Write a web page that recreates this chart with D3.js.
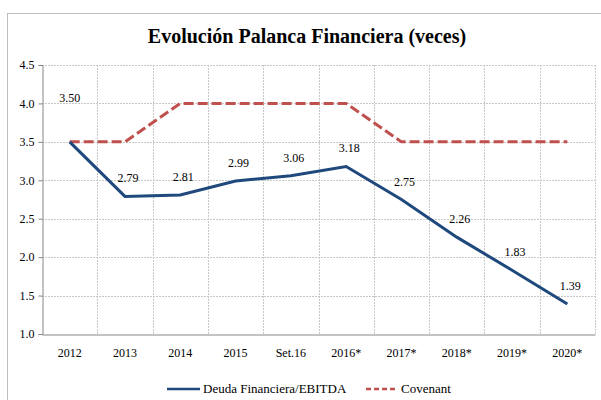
<!DOCTYPE html>
<html>
<head>
<meta charset="utf-8">
<script src="https://cdn.jsdelivr.net/npm/d3@7"></script>
<style>
  body { margin: 0; background: #fff; }
</style>
</head>
<body>
<script>
const categories = ["2012", "2013", "2014", "2015", "Set.16", "2016*", "2017*", "2018*", "2019*", "2020*"];
const deuda = [3.50, 2.79, 2.81, 2.99, 3.06, 3.18, 2.75, 2.26, 1.83, 1.39];
const covenant = [3.5, 3.5, 4.0, 4.0, 4.0, 4.0, 3.5, 3.5, 3.5, 3.5];
const yTicks = [1.0, 1.5, 2.0, 2.5, 3.0, 3.5, 4.0, 4.5];
const title = "Evolución Palanca Financiera (veces)";

const serif = "\"Liberation Serif\"";
const width = 601, height = 400;
const margin = { left: 42, right: 6, top: 65, bottom: 66 };

const svg = d3.select("body").append("svg")
    .attr("width", width)
    .attr("height", height);

// chart frame
svg.append("rect")
    .attr("x", 7.5).attr("y", 13.5)
    .attr("width", 620).attr("height", 420)
    .style("fill", "none")
    .style("stroke", "#bdbdbd");

const x = d3.scaleBand()
    .domain(categories)
    .range([margin.left, width - margin.right]);

const y = d3.scaleLinear()
    .domain([1.0, 4.5])
    .range([height - margin.bottom, margin.top]);

const cx = d => x(d) + x.bandwidth() / 2;

// grid
svg.append("g").selectAll("line.h")
    .data(yTicks.slice(1))
    .enter().append("line")
    .attr("x1", margin.left).attr("x2", width - margin.right)
    .attr("y1", d => Math.round(y(d)) + 0.5).attr("y2", d => Math.round(y(d)) + 0.5)
    .style("stroke", "#c8c8c8")
    .style("stroke-dasharray", "2,1");

svg.append("g").selectAll("line.v")
    .data(categories)
    .enter().append("line")
    .attr("x1", d => Math.round(x(d) + x.bandwidth()) + 0.5)
    .attr("x2", d => Math.round(x(d) + x.bandwidth()) + 0.5)
    .attr("y1", margin.top).attr("y2", height - margin.bottom)
    .style("stroke", "#c8c8c8")
    .style("stroke-dasharray", "2,1");

// axes
const yAxis = svg.append("g")
    .attr("transform", `translate(${margin.left + 0.5},0)`)
    .call(d3.axisLeft(y).tickValues(yTicks).tickFormat(d3.format(".1f")).tickSize(4).tickPadding(4));
yAxis.select(".domain").style("stroke", "#868686");
yAxis.selectAll(".tick line").style("stroke", "#868686");
yAxis.selectAll("text").style("font-size", "12px").style("font-family", serif).style("fill", "#000");

const xAxis = svg.append("g")
    .attr("transform", `translate(0,${Math.round(y(1.0)) + 0.5})`)
    .call(d3.axisBottom(x).tickSize(0).tickPadding(14));
xAxis.select(".domain").style("stroke", "#868686");
xAxis.selectAll("text").style("font-size", "12px").style("font-family", serif).style("fill", "#000");

// lines
const line = d3.line()
    .x((d, i) => cx(categories[i]))
    .y(d => y(d));

svg.append("path")
    .datum(covenant)
    .attr("d", line)
    .style("fill", "none")
    .style("stroke", "#c0504d")
    .style("stroke-width", 3)
    .style("stroke-dasharray", "10,4");

svg.append("path")
    .datum(deuda)
    .attr("d", line)
    .style("fill", "none")
    .style("stroke", "#1f497d")
    .style("stroke-width", 3);

// data labels
svg.append("g").selectAll("text")
    .data(deuda)
    .enter().append("text")
    .attr("x", (d, i) => cx(categories[i]) + (i === 0 ? 0 : 3))
    .attr("y", (d, i) => y(d) - (d === covenant[i] ? 40 : 14))
    .attr("text-anchor", "middle")
    .style("font-family", serif)
    .style("font-size", "12px")
    .text(d => d3.format(".2f")(d));

// title
svg.append("text")
    .attr("x", 307).attr("y", 43)
    .attr("text-anchor", "middle")
    .style("font-family", serif)
    .style("font-size", "20px")
    .style("font-weight", "bold")
    .text(title);

// legend
const legend = svg.append("g").attr("transform", "translate(0,389)");
legend.append("line")
    .attr("x1", 167).attr("x2", 200).attr("y1", 0).attr("y2", 0)
    .style("stroke", "#1f497d").style("stroke-width", 2.5);
legend.append("text")
    .attr("x", 203).attr("y", 4)
    .style("font-family", serif)
    .style("font-size", "13px")
    .text("Deuda Financiera/EBITDA");
legend.append("line")
    .attr("x1", 366).attr("x2", 398).attr("y1", 0).attr("y2", 0)
    .style("stroke", "#c0504d").style("stroke-width", 2.5)
    .style("stroke-dasharray", "5,3");
legend.append("text")
    .attr("x", 401).attr("y", 4)
    .style("font-family", serif)
    .style("font-size", "13px")
    .text("Covenant");
</script>
</body>
</html>
